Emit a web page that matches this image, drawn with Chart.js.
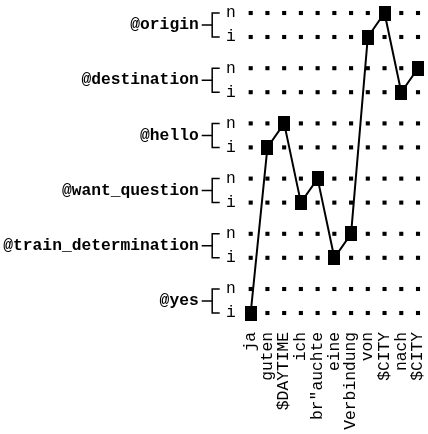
<!DOCTYPE html>
<html>
<head>
<meta charset="utf-8">
<script src="https://cdn.jsdelivr.net/npm/chart.js@4"></script>
<style>
  html, body { margin: 0; padding: 0; background: #fff; }
  #wrap { width: 428px; height: 434px; }
</style>
</head>
<body>
<div id="wrap"><canvas id="chart"></canvas></div>
<script>
const words = ['ja', 'guten', '$DAYTIME', 'ich', 'br"auchte', 'eine', 'Verbindung', 'von', '$CITY', 'nach', '$CITY'];
const groups = ['@origin', '@destination', '@hello', '@want_question', '@train_determination', '@yes'];
const slots = ['n', 'i'];
const pathGroups = ['@yes', '@hello', '@hello', '@want_question', '@want_question', '@train_determination', '@train_determination', '@origin', '@origin', '@destination', '@destination'];
const pathSlots = ['i', 'i', 'n', 'i', 'n', 'i', 'n', 'i', 'n', 'i', 'n'];

const GROUP_STEP = 2.3;
const FONT = '"Liberation Mono", "Courier New", monospace';
const FONT_SIZE = 16.3;

function rowValue(group, slot) {
    const g = groups.length - 1 - groups.indexOf(group);
    return g * GROUP_STEP + (slot === 'n' ? 1 : 0);
}

const rows = [];
groups.forEach(g => slots.forEach(s => rows.push({ slot: s, value: rowValue(g, s) })));

const gridDots = [];
words.forEach((w, i) => rows.forEach(r => gridDots.push({ x: i, y: r.value })));
const path = pathGroups.map((g, i) => ({ x: i, y: rowValue(g, pathSlots[i]) }));

// the path markers are a bit taller than wide
const marker = document.createElement('canvas');
marker.width = 12;
marker.height = 15;
const mctx = marker.getContext('2d');
mctx.fillStyle = '#000';
mctx.fillRect(0, 0, 12, 15);

// group names with the bracket that joins their n / i rows
const brackets = {
    id: 'brackets',
    afterDraw(chart) {
        const ctx = chart.ctx;
        const y = chart.scales.y;
        const left = chart.chartArea.left;
        ctx.save();
        ctx.strokeStyle = '#000';
        ctx.fillStyle = '#000';
        ctx.lineWidth = 1.5;
        ctx.font = 'bold ' + FONT_SIZE + 'px ' + FONT;
        ctx.textAlign = 'right';
        ctx.textBaseline = 'middle';
        groups.forEach(g => {
            const yn = y.getPixelForValue(rowValue(g, 'n'));
            const yi = y.getPixelForValue(rowValue(g, 'i'));
            const ym = (yn + yi) / 2;
            ctx.beginPath();
            ctx.moveTo(left - 31, yn);
            ctx.lineTo(left - 38.5, yn);
            ctx.lineTo(left - 38.5, yi);
            ctx.lineTo(left - 31, yi);
            ctx.moveTo(left - 38.5, ym);
            ctx.lineTo(left - 49, ym);
            ctx.stroke();
            ctx.fillText(g, left - 52, ym);
        });
        ctx.restore();
    }
};

new Chart(document.getElementById('chart'), {
    type: 'line',
    data: {
        datasets: [
            {
                data: path,
                borderColor: '#000',
                backgroundColor: '#000',
                borderWidth: 2,
                pointStyle: marker,
                pointRadius: 8,
                pointHoverRadius: 8,
                tension: 0,
                order: 0,
                clip: false
            },
            {
                data: gridDots,
                showLine: false,
                borderColor: '#000',
                backgroundColor: '#000',
                pointStyle: 'rect',
                pointRadius: 2.9,
                pointHoverRadius: 2.9,
                pointBorderWidth: 0,
                order: 1,
                clip: false
            }
        ]
    },
    options: {
        responsive: true,
        maintainAspectRatio: false,
        animation: false,
        events: [],
        layout: { padding: { top: 13, right: 8, bottom: 0, left: 0 } },
        plugins: { legend: { display: false }, tooltip: { enabled: false } },
        scales: {
            x: {
                type: 'linear',
                min: 0,
                max: words.length - 1,
                grid: { display: false, drawTicks: false },
                border: { display: false },
                afterBuildTicks(scale) { scale.ticks = words.map((w, i) => ({ value: i })); },
                ticks: {
                    autoSkip: false,
                    minRotation: 90,
                    maxRotation: 90,
                    padding: 19,
                    color: '#000',
                    font: { family: FONT, size: FONT_SIZE },
                    callback(v) { return words[v]; }
                },
                afterFit(scale) {
                    scale.height = 121;
                    scale.paddingLeft = 0;
                    scale.paddingRight = 0;
                }
            },
            y: {
                type: 'linear',
                min: 0,
                max: (groups.length - 1) * GROUP_STEP + 1,
                grid: { display: false, drawTicks: false },
                border: { display: false },
                afterBuildTicks(scale) { scale.ticks = rows.map(r => ({ value: r.value })); },
                ticks: {
                    padding: 15,
                    color: '#000',
                    font: { family: FONT, size: FONT_SIZE },
                    callback(v) {
                        const r = rows.find(r => Math.abs(r.value - v) < 1e-6);
                        return r ? r.slot : '';
                    }
                },
                afterFit(scale) {
                    scale.width = 250.7;
                    scale.paddingTop = 0;
                    scale.paddingBottom = 0;
                }
            }
        }
    },
    plugins: [brackets]
});
</script>
</body>
</html>
